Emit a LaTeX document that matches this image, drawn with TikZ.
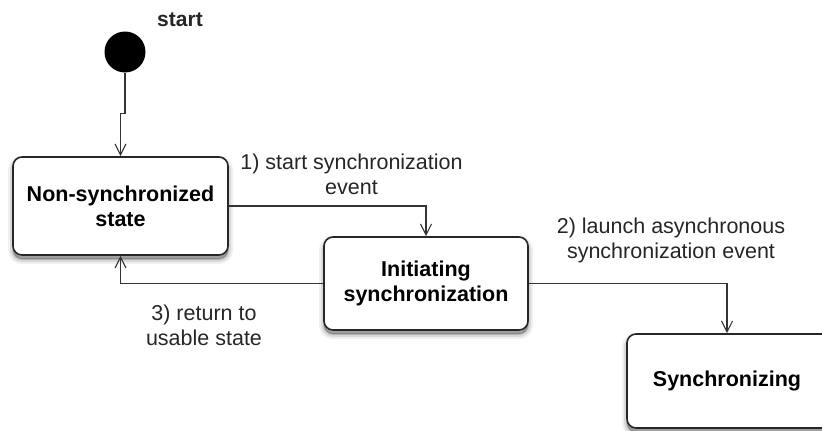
\documentclass[tikz,border=0pt]{standalone}
\usepackage{fontspec}
\setmainfont{Liberation Sans}
\usetikzlibrary{shadows,arrows.meta}
\begin{document}
\begin{tikzpicture}[x=1pt,y=-1pt,
  lbl/.style={align=center,font=\fontsize{21.5}{25}\selectfont,text=black!85,inner sep=0pt},
  statebox/.style={draw=black!85,line width=1.6pt,rounded corners=9pt,fill=white,
    align=center,font=\fontsize{21.5}{25}\selectfont\bfseries,inner sep=0pt,
    general shadow={fill=black,draw=black,line width=10pt,opacity=0.06,shadow yshift=-4pt},
    general shadow={fill=black,draw=black,line width=6pt,opacity=0.09,shadow yshift=-4pt},
    general shadow={fill=black,draw=black,line width=2pt,opacity=0.15,shadow yshift=-4pt}},
  conn/.style={draw=black!80,line width=1.1pt,-{Straight Barb[length=11pt,width=11pt,line width=1.1pt]}},
]
\useasboundingbox (0,0) rectangle (822,431);
\node[circle,fill=black,minimum size=41pt,inner sep=0pt] (st) at (125,52) {};
\node[lbl,font=\fontsize{21}{25}\selectfont\bfseries] (stl) at (180,20) {start};
\node[statebox,minimum width=215pt,minimum height=98pt] (ns) at (120.5,206) {Non-synchronized\\state};
\node[statebox,minimum width=204pt,minimum height=93pt] (ini) at (426,283.5) {Initiating\\synchronization};
\node[statebox,minimum width=210pt,minimum height=94pt] (syn) at (732,381) {\hspace*{-10pt}Synchronizing};
\node[lbl] (l1) at (351.5,174.5) {1) start synchronization\\event};
\node[lbl] (l2) at (671,240) {2) launch asynchronous\\synchronization event};
\node[lbl] (l3) at (204,325.5) {3) return to\\usable state};
\draw[conn] (st.south) -- ++(0,41) -| (ns.north);
\draw[conn] (ns.east) -| (ini.north);
\draw[conn] (ini.east) -| ([xshift=-5pt]syn.north);
\draw[conn] (ini.west) -| (ns.south);
\end{tikzpicture}
\end{document}
